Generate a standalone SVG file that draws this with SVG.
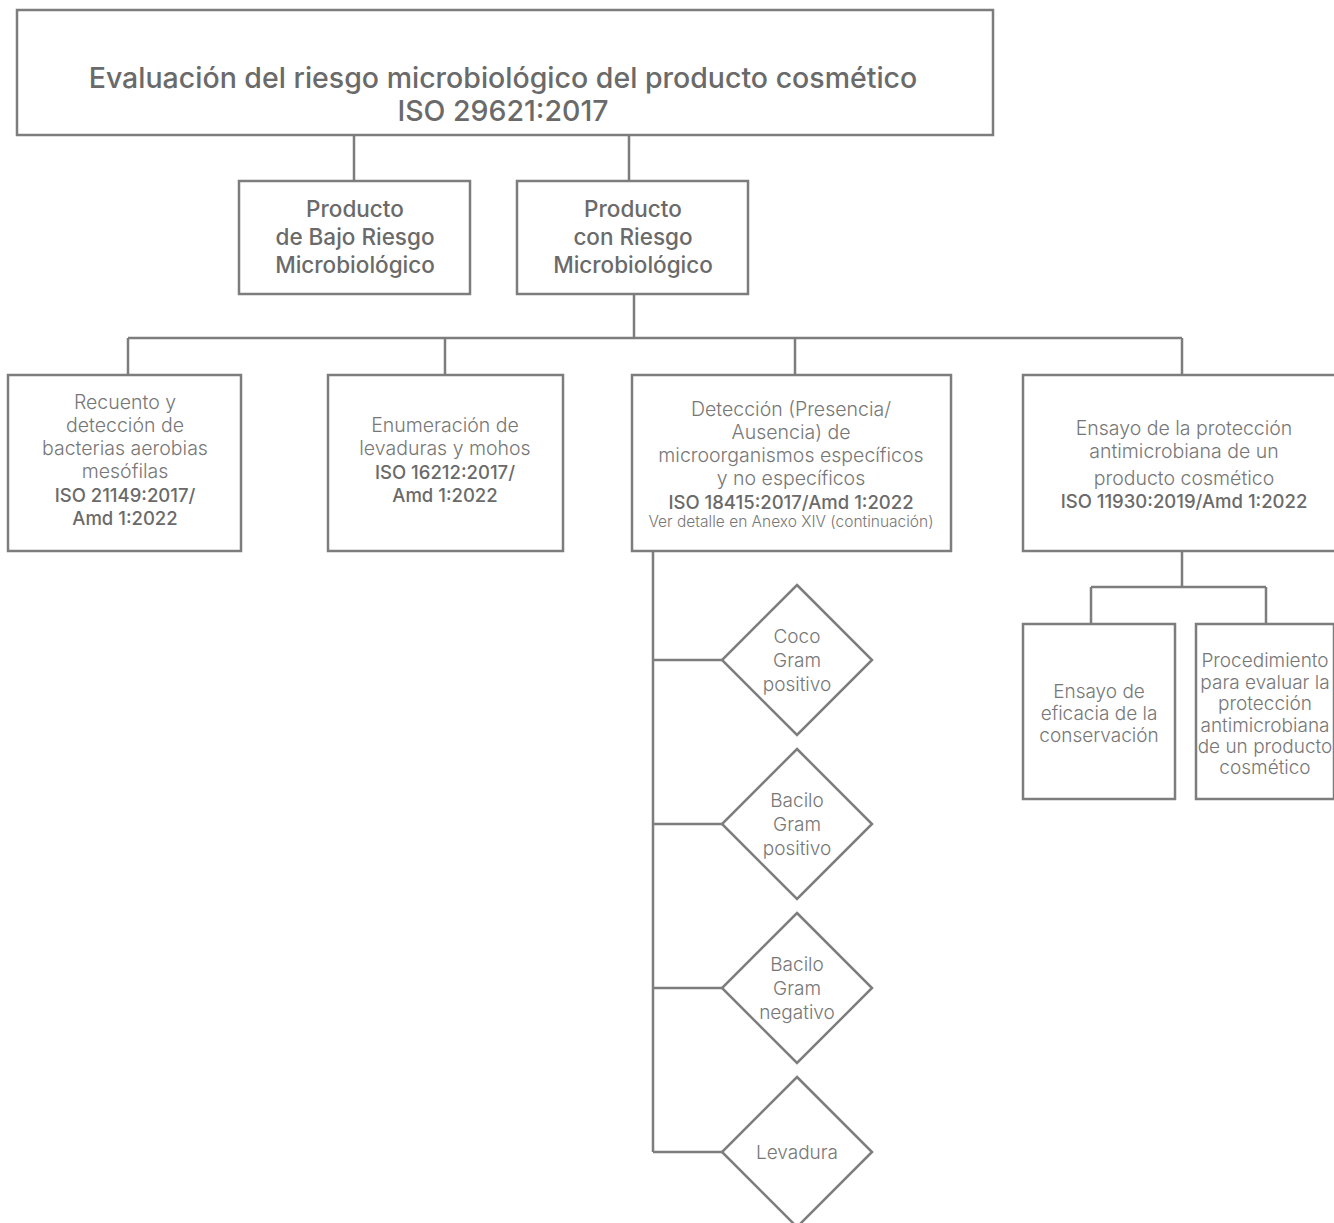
<svg xmlns="http://www.w3.org/2000/svg" width="1334" height="1223" viewBox="0 0 1334 1223">
<style>
.box{fill:#fff;stroke:#7d7d7d;stroke-width:2.5}
.conn path{fill:none;stroke:#7d7d7d;stroke-width:2.5}
text{font-family:Inter,Roboto,"Liberation Sans",sans-serif;text-anchor:middle;fill:#6a6a6a}
.t{font-size:28.5px;font-weight:500}
.m{font-size:22.5px;font-weight:500}
.l{font-size:19.5px;font-weight:300;fill:#777}
.b{font-size:18.5px;font-weight:500}
.s{font-size:15.5px;font-weight:300;fill:#777}
.d{font-size:19px;font-weight:300;fill:#777}
</style>
<rect width="1334" height="1223" fill="#fff"/>
<g class="conn" id="connectors">
<path d="M354 135V181M629 135V181"/>
<path d="M634 294V338M128 338H1182M128 338V375M445 338V375M795 338V375M1182 338V375"/>
<path d="M653 551V1152M653 660H722M653 824H722M653 988H722M653 1152H722"/>
<path d="M1182 551V587M1091 587H1266M1091 587V624M1266 587V624"/>
</g>
<g id="n-title">
<rect class="box" x="17" y="10" width="976" height="125"/>
<text class="t" x="503" y="88">Evaluación del riesgo microbiológico del producto cosmético</text>
<text class="t" x="503" y="121">ISO 29621:2017</text>
</g>
<g id="n-bajo">
<rect class="box" x="239" y="181" width="231" height="113"/>
<text class="m" x="355" y="217">Producto</text>
<text class="m" x="355" y="245">de Bajo Riesgo</text>
<text class="m" x="355" y="273">Microbiológico</text>
</g>
<g id="n-con">
<rect class="box" x="517" y="181" width="231" height="113"/>
<text class="m" x="633" y="217">Producto</text>
<text class="m" x="633" y="245">con Riesgo</text>
<text class="m" x="633" y="273">Microbiológico</text>
</g>
<g id="n-recuento">
<rect class="box" x="8" y="375" width="233" height="176"/>
<text class="l" x="125" y="409">Recuento y</text>
<text class="l" x="125" y="432">detección de</text>
<text class="l" x="125" y="455">bacterias aerobias</text>
<text class="l" x="125" y="478">mesófilas</text>
<text class="b" x="125" y="502">ISO 21149:2017/</text>
<text class="b" x="125" y="525">Amd 1:2022</text>
</g>
<g id="n-enumeracion">
<rect class="box" x="328" y="375" width="235" height="176"/>
<text class="l" x="445" y="432">Enumeración de</text>
<text class="l" x="445" y="455">levaduras y mohos</text>
<text class="b" x="445" y="479">ISO 16212:2017/</text>
<text class="b" x="445" y="502">Amd 1:2022</text>
</g>
<g id="n-deteccion">
<rect class="box" x="632" y="375" width="319" height="176"/>
<text class="l" x="791" y="416">Detección (Presencia/</text>
<text class="l" x="791" y="439">Ausencia) de</text>
<text class="l" x="791" y="462">microorganismos específicos</text>
<text class="l" x="791" y="485">y no específicos</text>
<text class="b" x="791" y="509">ISO 18415:2017/Amd 1:2022</text>
<text class="s" x="791" y="527">Ver detalle en Anexo XIV (continuación)</text>
</g>
<g id="n-ensayo">
<rect class="box" x="1023" y="375" width="322" height="176"/>
<text class="l" x="1184" y="435">Ensayo de la protección</text>
<text class="l" x="1184" y="458">antimicrobiana de un</text>
<text class="l" x="1184" y="485">producto cosmético</text>
<text class="b" x="1184" y="508">ISO 11930:2019/Amd 1:2022</text>
</g>
<g id="n-eficacia">
<rect class="box" x="1023" y="624" width="152" height="175"/>
<text class="d" x="1099" y="698">Ensayo de</text>
<text class="d" x="1099" y="720">eficacia de la</text>
<text class="d" x="1099" y="742">conservación</text>
</g>
<g id="n-procedimiento">
<rect class="box" x="1196" y="624" width="138" height="175"/>
<text class="d" x="1265" y="667">Procedimiento</text>
<text class="d" x="1265" y="689">para evaluar la</text>
<text class="d" x="1265" y="710">protección</text>
<text class="d" x="1265" y="732">antimicrobiana</text>
<text class="d" x="1265" y="753">de un producto</text>
<text class="d" x="1265" y="774">cosmético</text>
</g>
<g id="n-coco">
<path class="box" d="M797 585L872 660L797 735L722 660Z"/>
<text class="d" x="797" y="643">Coco</text>
<text class="d" x="797" y="667">Gram</text>
<text class="d" x="797" y="691">positivo</text>
</g>
<g id="n-bacilo-pos">
<path class="box" d="M797 749L872 824L797 899L722 824Z"/>
<text class="d" x="797" y="807">Bacilo</text>
<text class="d" x="797" y="831">Gram</text>
<text class="d" x="797" y="855">positivo</text>
</g>
<g id="n-bacilo-neg">
<path class="box" d="M797 913L872 988L797 1063L722 988Z"/>
<text class="d" x="797" y="971">Bacilo</text>
<text class="d" x="797" y="995">Gram</text>
<text class="d" x="797" y="1019">negativo</text>
</g>
<g id="n-levadura">
<path class="box" d="M797 1077L872 1152L797 1227L722 1152Z"/>
<text class="d" x="797" y="1159">Levadura</text>
</g>
</svg>
